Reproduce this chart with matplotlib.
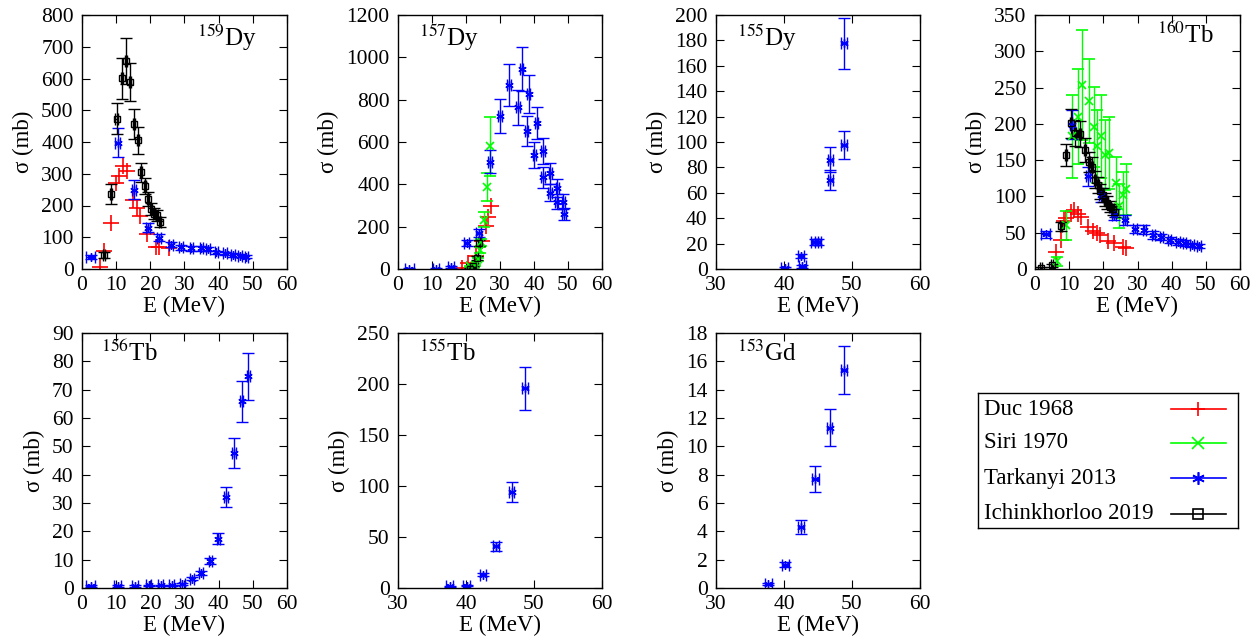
import matplotlib
matplotlib.use("Agg")
import matplotlib.pyplot as plt

plt.rcParams.update(
    {
        "font.family": ["Liberation Serif", "DejaVu Serif"],
        "mathtext.fontset": "stix",
        "font.size": 15.5,
        "axes.labelsize": 16.5,
        "axes.linewidth": 1.0,
        "xtick.direction": "in",
        "ytick.direction": "in",
        "xtick.top": True,
        "ytick.right": True,
        "xtick.major.size": 6,
        "ytick.major.size": 6,
        "xtick.major.pad": 5,
        "ytick.major.pad": 6,
    }
)

RED = "#ff0000"
GREEN = "#00ff00"
BLUE = "#0000ff"
BLACK = "#000000"

# ---------------- 159Dy ----------------
dy159_duc_e = [5.2, 6.5, 8.4, 9.9, 10.7, 11.9, 13.3, 14.8, 16.1, 17.1, 19.0, 21.7, 22.4, 25.6]
dy159_duc_s = [7, 57, 145, 270, 294, 325, 309, 218, 193, 166, 111, 70, 68, 65]

dy159_tar_e = [2.5, 10.4, 15.3, 19.2, 22.6, 26.1, 29.0, 32.0, 34.9, 36.9, 39.3, 41.8, 44.2, 46.2, 48.1]
dy159_tar_s = [38, 398, 250, 130, 99, 77, 68, 65, 65, 62, 52, 49, 44, 42, 39]
dy159_tar_ds = [6, 46, 29, 14, 10, 8, 7, 7, 7, 6, 6, 5, 5, 5, 5]
dy159_tar_de = [1.3, 0.6, 0.6, 0.6, 0.6, 0.6, 0.5, 0.5, 0.5, 0.5, 0.5, 0.5, 0.5, 0.5, 0.5]

dy159_ich_e = [6.5, 8.6, 10.1, 11.6, 12.8, 14.1, 15.1, 16.4, 17.4, 18.4, 19.4, 20.3, 21.2, 21.9, 22.9]
dy159_ich_s = [44, 237, 474, 601, 656, 589, 457, 405, 304, 262, 221, 190, 174, 169, 148]
dy159_ich_ds = [10, 31, 50, 64, 72, 60, 47, 42, 31, 25, 22, 19, 18, 17, 15]

# ---------------- 157Dy ----------------
dy157_duc_e = [18.7, 20.7, 22.9, 24.6, 25.9, 26.6, 27.3]
dy157_duc_s = [3, 28, 60, 130, 201, 248, 296]

dy157_sir_e = [21.2, 22.6, 23.5, 24.0, 24.4, 25.3, 26.3, 27.1]
dy157_sir_s = [12, 20, 45, 90, 126, 233, 387, 579]
dy157_sir_ds = [4, 5, 8, 14, 18, 35, 65, 140]

dy157_tar_e = [3.3, 11.2, 15.6, 20.2, 23.7, 27.1, 30.0, 32.7, 35.4, 36.4, 37.8, 38.4,
               40.8, 40.1, 42.7, 42.6, 44.8, 44.7, 46.9, 46.7, 48.6, 48.8]
dy157_tar_s = [0, 0, 11, 121, 171, 507, 724, 869, 763, 943, 651, 826,
               688, 539, 558, 433, 452, 360, 381, 318, 318, 260]
dy157_tar_ds = [3, 3, 4, 14, 19, 55, 80, 98, 85, 104, 72, 90,
                76, 60, 62, 48, 50, 40, 42, 35, 35, 30]
dy157_tar_de = [1.3, 1.0, 0.8, 0.7, 0.7, 0.6, 0.6, 0.6, 0.6, 0.5, 0.5, 0.5,
                0.5, 0.5, 0.5, 0.5, 0.5, 0.5, 0.5, 0.5, 0.5, 0.5]

dy157_ich_e = [21.2, 22.2, 23.1, 23.8]
dy157_ich_s = [2, 12, 52, 123]
dy157_ich_ds = [2, 4, 8, 15]

# ---------------- 155Dy ----------------
dy155_tar_e = [40.1, 42.5, 42.7, 44.5, 45.0, 46.8, 46.8, 48.8, 48.8]
dy155_tar_s = [0.8, 10.5, 2.0, 21.0, 21.0, 70, 86, 98, 177.7]
dy155_tar_ds = [1.0, 1.5, 1.0, 2.3, 2.3, 8, 10, 11, 20]
dy155_tar_de = [0.5, 0.5, 0.5, 0.5, 0.5, 0.4, 0.4, 0.4, 0.4]

# ---------------- 160Tb ----------------
tb160_duc_e = [6.0, 7.5, 8.4, 9.2, 10.6, 11.5, 12.5, 13.5, 15.4, 17.0, 18.1, 19.1, 21.5, 23.0, 25.7, 26.6]
tb160_duc_s = [24, 40, 66, 70, 78, 81, 76, 72, 58, 53, 50, 47, 38, 36, 30, 29]

tb160_sir_e = [6.5, 9.0, 10.7, 12.5, 13.9, 15.7, 17.2, 18.0, 19.3, 20.5, 21.7, 23.7, 24.7, 25.7, 26.6]
tb160_sir_s = [10.5, 60, 183, 210, 254, 231, 196, 169, 183, 157, 160, 118, 87, 102, 110]
tb160_sir_ds = [6, 20, 57, 66, 76, 58, 55, 50, 57, 48, 50, 36, 30, 32, 35]

tb160_tar_e = [3.1, 10.7, 15.4, 19.3, 23.2, 26.4, 29.3, 32.0, 34.6, 37.0, 39.4, 41.9, 43.8, 46.0, 48.0]
tb160_tar_s = [48, 199, 128, 102, 75, 68, 55, 54, 47, 44, 40, 37, 36, 33, 32]
tb160_tar_ds = [5, 20, 13, 10, 8, 7, 6, 6, 5, 4, 4, 4, 4, 3, 3]
tb160_tar_de = [1.3, 0.6, 0.6, 0.6, 0.6, 0.6, 0.5, 0.5, 0.5, 0.5, 0.5, 0.5, 0.5, 0.5, 0.5]

tb160_ich_e = [1.8, 5.0, 7.5, 9.1, 10.6, 11.8, 13.3, 14.5, 15.7, 16.7, 17.6, 18.3, 19.1,
               19.9, 20.5, 21.2, 22.0, 22.8, 23.5]
tb160_ich_s = [1.4, 5, 59, 157, 201, 188, 186, 164, 147, 141, 123, 116, 107,
               102, 96, 91, 86, 82, 79]
tb160_ich_ds = [1, 2, 6, 15, 20, 18, 18, 16, 14, 14, 12, 11, 10, 10, 9, 9, 8, 8, 8]

# ---------------- 156Tb ----------------
tb156_tar_e = [2.5, 10.5, 15.5, 19.5, 23.0, 26.2, 29.4, 32.2, 34.9, 37.6, 39.9, 42.2, 44.5, 46.7, 48.7]
tb156_tar_s = [0.7, 0.7, 0.7, 0.9, 0.9, 0.9, 1.5, 3.3, 5.4, 9.5, 17.4, 32.1, 47.6, 65.9, 74.7]
tb156_tar_ds = [0.3, 0.3, 0.3, 0.3, 0.3, 0.3, 0.3, 0.5, 0.7, 1.0, 2.0, 3.6, 5.4, 7.3, 8.4]
tb156_tar_de = [1.3, 1.0, 0.8, 0.8, 0.7, 0.7, 0.7, 0.6, 0.6, 0.5, 0.5, 0.5, 0.5, 0.4, 0.4]

# ---------------- 155Tb ----------------
tb155_tar_e = [37.6, 40.1, 42.5, 44.4, 46.7, 48.7]
tb155_tar_s = [1.6, 2.3, 12.8, 40.9, 93.9, 195.9]
tb155_tar_ds = [0.5, 0.6, 1.5, 4.5, 10, 21]
tb155_tar_de = [0.5, 0.5, 0.5, 0.5, 0.4, 0.4]

# ---------------- 153Gd ----------------
gd153_tar_e = [37.7, 40.2, 42.5, 44.6, 46.7, 48.8]
gd153_tar_s = [0.28, 1.63, 4.29, 7.70, 11.31, 15.41]
gd153_tar_ds = [0.05, 0.18, 0.5, 0.9, 1.3, 1.7]
gd153_tar_de = [0.5, 0.5, 0.5, 0.5, 0.4, 0.4]

legend_labels = ["Duc 1968", "Siri 1970", "Tarkanyi 2013", "Ichinkhorloo 2019"]


def plot_duc(ax, e, s):
    ax.plot(e, s, ls="none", marker="+", ms=11, mew=1.2, color=RED)


def plot_siri(ax, e, s, ds):
    ax.errorbar(e, s, yerr=ds, ls="none", marker="x", ms=6, mew=1.2, color=GREEN,
                elinewidth=1.0, capsize=4, capthick=1.0)


def plot_tarkanyi(ax, e, s, ds, de):
    ax.errorbar(e, s, yerr=ds, xerr=de, ls="none", marker=(6, 2, 0), ms=6, mew=1.0,
                color=BLUE, elinewidth=1.0, capsize=4, capthick=1.0)


def plot_ichink(ax, e, s, ds):
    ax.errorbar(e, s, yerr=ds, xerr=0.3, ls="none", marker="s", ms=4, mfc="none", mew=1.0,
                color=BLACK, elinewidth=1.0, capsize=4, capthick=1.0)


def setup(ax, xlim, xstep, ylim, ystep, label, lx, ly):
    ax.set_xlim(*xlim)
    ax.set_ylim(*ylim)
    ax.set_xticks(range(xlim[0], xlim[1] + 1, xstep))
    yt = []
    v = ylim[0]
    while v <= ylim[1] + 1e-9:
        yt.append(v)
        v += ystep
    ax.set_yticks(yt)
    ax.set_xlabel("E (MeV)", labelpad=1)
    ax.set_ylabel("σ (mb)", labelpad=5)
    ax.text(lx, ly, label, transform=ax.transAxes, ha="left", va="top", fontsize=18)


W, H = 1256, 641
fig = plt.figure(figsize=(W / 100, H / 100), dpi=100)


def add_ax(left, top, right, bottom):
    return fig.add_axes([left / W, 1 - bottom / H, (right - left) / W, (bottom - top) / H])


cols = [(82, 287), (398, 602), (716, 920), (1035, 1240)]
rows = [(15, 269), (333, 588)]

# 159Dy
ax = add_ax(cols[0][0], rows[0][0], cols[0][1], rows[0][1])
plot_duc(ax, dy159_duc_e, dy159_duc_s)
plot_tarkanyi(ax, dy159_tar_e, dy159_tar_s, dy159_tar_ds, dy159_tar_de)
plot_ichink(ax, dy159_ich_e, dy159_ich_s, dy159_ich_ds)
setup(ax, (0, 60), 10, (0, 800), 100, r"$^{159}$Dy", 0.56, 0.97)

# 157Dy
ax = add_ax(cols[1][0], rows[0][0], cols[1][1], rows[0][1])
plot_duc(ax, dy157_duc_e, dy157_duc_s)
plot_siri(ax, dy157_sir_e, dy157_sir_s, dy157_sir_ds)
plot_tarkanyi(ax, dy157_tar_e, dy157_tar_s, dy157_tar_ds, dy157_tar_de)
plot_ichink(ax, dy157_ich_e, dy157_ich_s, dy157_ich_ds)
setup(ax, (0, 60), 10, (0, 1200), 200, r"$^{157}$Dy", 0.105, 0.97)

# 155Dy
ax = add_ax(cols[2][0], rows[0][0], cols[2][1], rows[0][1])
plot_tarkanyi(ax, dy155_tar_e, dy155_tar_s, dy155_tar_ds, dy155_tar_de)
setup(ax, (30, 60), 10, (0, 200), 20, r"$^{155}$Dy", 0.105, 0.97)

# 160Tb
ax = add_ax(cols[3][0], rows[0][0], cols[3][1], rows[0][1])
plot_duc(ax, tb160_duc_e, tb160_duc_s)
plot_siri(ax, tb160_sir_e, tb160_sir_s, tb160_sir_ds)
plot_tarkanyi(ax, tb160_tar_e, tb160_tar_s, tb160_tar_ds, tb160_tar_de)
plot_ichink(ax, tb160_ich_e, tb160_ich_s, tb160_ich_ds)
setup(ax, (0, 60), 10, (0, 350), 50, r"$^{160}$Tb", 0.595, 0.97)

# 156Tb
ax = add_ax(cols[0][0], rows[1][0], cols[0][1], rows[1][1])
plot_tarkanyi(ax, tb156_tar_e, tb156_tar_s, tb156_tar_ds, tb156_tar_de)
setup(ax, (0, 60), 10, (0, 90), 10, r"$^{156}$Tb", 0.095, 0.97)

# 155Tb
ax = add_ax(cols[1][0], rows[1][0], cols[1][1], rows[1][1])
plot_tarkanyi(ax, tb155_tar_e, tb155_tar_s, tb155_tar_ds, tb155_tar_de)
setup(ax, (30, 60), 10, (0, 250), 50, r"$^{155}$Tb", 0.105, 0.97)

# 153Gd
ax = add_ax(cols[2][0], rows[1][0], cols[2][1], rows[1][1])
plot_tarkanyi(ax, gd153_tar_e, gd153_tar_s, gd153_tar_ds, gd153_tar_de)
setup(ax, (30, 60), 10, (0, 18), 2, r"$^{153}$Gd", 0.105, 0.97)

# legend box (gnuplot style: label left, sample on the right)
lax = add_ax(978, 393, 1238, 528)
lax.set_xticks([])
lax.set_yticks([])
lax.set_xlim(0, 1)
lax.set_ylim(0, 1)
for sp in lax.spines.values():
    sp.set_linewidth(1.0)

samples = [
    dict(color=RED, marker="+", ms=10, mew=1.2),
    dict(color=GREEN, marker="x", ms=8, mew=1.2),
    dict(color=BLUE, marker=(6, 2, 0), ms=9, mew=1.2),
    dict(color=BLACK, marker="s", ms=7, mfc="none", mew=1.2),
]
row_y = [0.881, 0.630, 0.370, 0.104]
for lbl, style, yy in zip(legend_labels, samples, row_y):
    lax.text(0.023, yy, lbl, ha="left", va="center", fontsize=16.5)
    lax.plot([0.742, 0.954], [yy, yy], color=style["color"], lw=1.2)
    lax.plot([0.848], [yy], ls="none", **style)

fig.savefig("out.png", dpi=100)
